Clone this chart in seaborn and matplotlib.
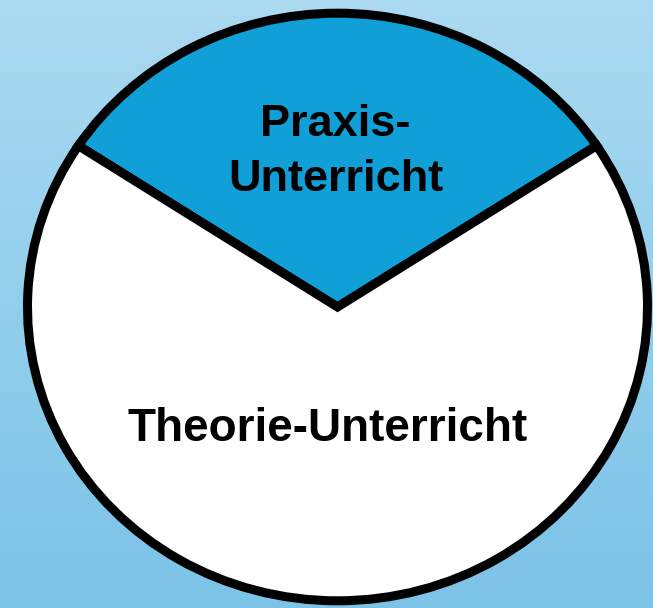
import numpy as np
import matplotlib
matplotlib.use("Agg")
import matplotlib.pyplot as plt
import seaborn as sns

# Data
categories = ["Praxis-\nUnterricht", "Theorie-Unterricht"]
shares = [31.5, 68.5]
colors = ["#109fd6", "#ffffff"]

sns.set_theme(style="white")
plt.rcParams['font.family'] = ['Liberation Sans', 'DejaVu Sans']

W, H = 653, 608
fig = plt.figure(figsize=(W / 100, H / 100), dpi=100)

# background gradient
bg = fig.add_axes([0, 0, 1, 1], zorder=0)
top = np.array([0xab, 0xda, 0xf1]) / 255
bot = np.array([0x7b, 0xc3, 0xe7]) / 255
t = np.linspace(0, 1, 256)[:, None]
grad = top[None, :] * (1 - t) + bot[None, :] * t
bg.imshow(grad[:, None, :].repeat(2, axis=1), aspect='auto', extent=[0, 1, 0, 1])
bg.set_axis_off()

ax = fig.add_axes([0, 0, 1, 1], zorder=1)
ax.patch.set_alpha(0)

frac_praxis = shares[0] / sum(shares)
start = 90 - 360 * frac_praxis / 2
wedges, _ = ax.pie(shares, colors=colors, startangle=start, counterclock=True,
                   wedgeprops=dict(edgecolor="black", linewidth=6.5, joinstyle="miter"))

# pixel geometry -> data limits (slightly elliptical pie)
cx, cy = 337.5, 307.0
rx, ry = 310.0, 293.8
ax.set_aspect('auto')
ax.set_xlim(-cx / rx, (W - cx) / rx)
ax.set_ylim(-(H - cy) / ry, cy / ry)
ax.set_axis_off()

ax.text(-0.006, 0.395, categories[0], ha="center", va="baseline", fontsize=32.5,
        fontweight="bold", color="black", linespacing=1.45, multialignment="center")
ax.text(-0.032, -0.456, categories[1], ha="center", va="baseline", fontsize=33,
        fontweight="bold", color="black")

fig.savefig("out.png", dpi=100)
